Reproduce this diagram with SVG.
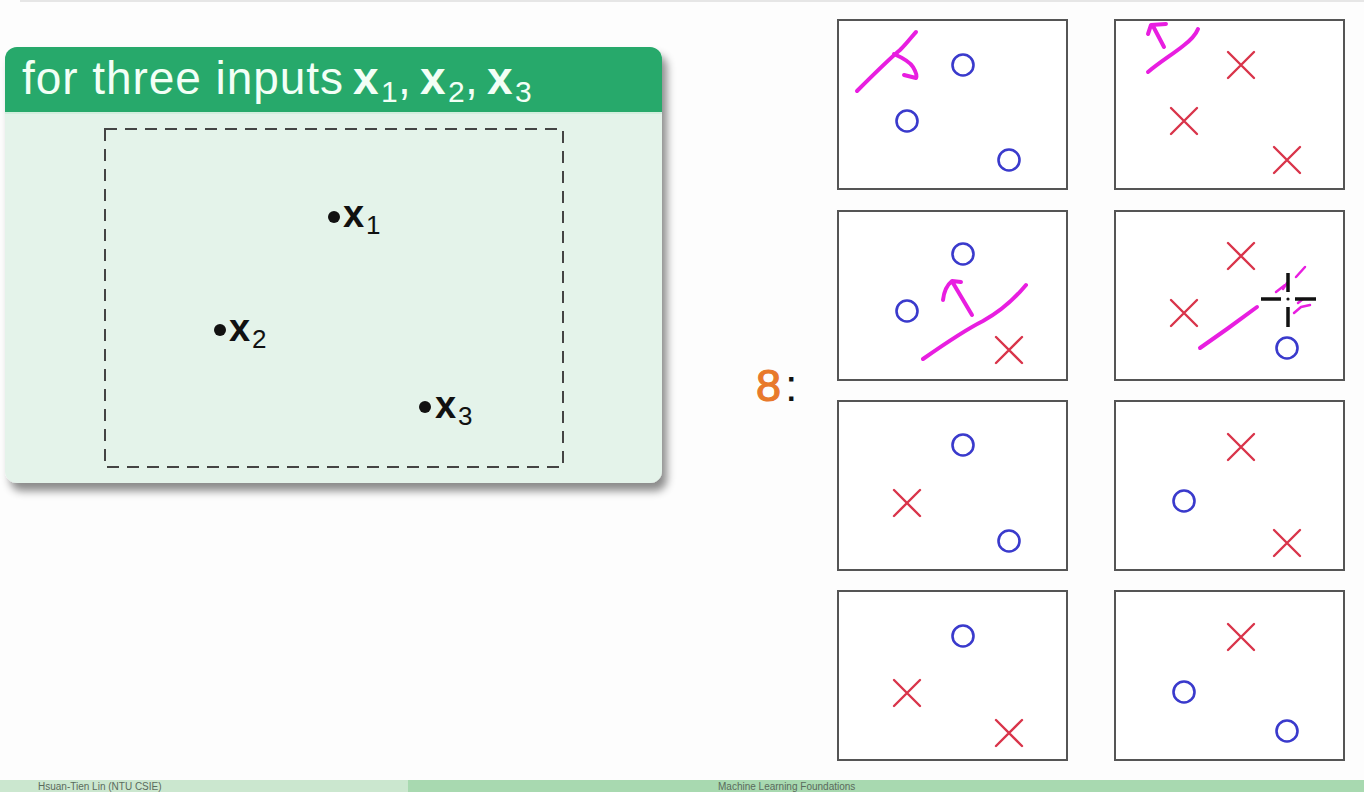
<svg xmlns="http://www.w3.org/2000/svg" width="1364" height="792" viewBox="0 0 1364 792">
<defs>
<filter id="shadow" x="-5%" y="-5%" width="115%" height="120%">
<feDropShadow dx="5" dy="8" stdDeviation="4" flood-color="#000" flood-opacity="0.45"/>
</filter>
</defs>
<style>
.box{fill:#fff;stroke:#555;stroke-width:2}
.o{fill:none;stroke:#3a3acc;stroke-width:2.6}
.x{fill:none;stroke:#d9344a;stroke-width:2.4;stroke-linecap:round}
.pen{fill:none;stroke:#e81ee0;stroke-width:4;stroke-linecap:round;stroke-linejoin:round}
.hd{font-family:"Liberation Sans",Arial,sans-serif;fill:#f2fff6}
.lbl{font-family:"Liberation Sans",Arial,sans-serif;fill:#111}
.cur{stroke:#111;stroke-width:3.5;stroke-linecap:butt}
.ft{font-family:"Liberation Sans",Arial,sans-serif;font-size:10px;fill:#5a6b5c}
</style>

<rect x="0" y="0" width="1364" height="792" fill="#fdfdfd"/>
<line x1="20" y1="1" x2="1364" y2="1" stroke="#e6e6e6" stroke-width="2"/>

<g id="panel">
<path d="M5,59 a12,12 0 0 1 12,-12 h633 a12,12 0 0 1 12,12 v412 a12,12 0 0 1 -12,12 h-633 a12,12 0 0 1 -12,-12 z" fill="#e4f3ea" filter="url(#shadow)"/>
<path d="M5,59 a12,12 0 0 1 12,-12 h633 a12,12 0 0 1 12,12 v53 h-657 z" fill="#27a96b"/>
<line x1="5" y1="113" x2="662" y2="113" stroke="#d2eede" stroke-width="2"/>
<text class="hd" x="22" y="94" font-size="46" textLength="321" lengthAdjust="spacing">for three inputs</text>
<text class="hd" y="94" font-size="46" font-weight="bold"><tspan x="353">x</tspan><tspan x="420">x</tspan><tspan x="487">x</tspan></text>
<text class="hd" y="102" font-size="30"><tspan x="381">1</tspan><tspan x="448">2</tspan><tspan x="515">3</tspan></text>
<text class="hd" y="94" font-size="46"><tspan x="398">,</tspan><tspan x="465">,</tspan></text>
<rect x="105" y="129" width="458" height="338" fill="none" stroke="#444" stroke-width="2" stroke-dasharray="12 8"/>
</g>

<g id="point-x1">
<circle cx="334" cy="217" r="6" fill="#111"/>
<text class="lbl" x="343" y="227" font-size="38" font-weight="bold">x</text>
<text class="lbl" x="366" y="234" font-size="26">1</text>
</g>
<g id="point-x2">
<circle cx="220" cy="330" r="6" fill="#111"/>
<text class="lbl" x="229" y="341" font-size="38" font-weight="bold">x</text>
<text class="lbl" x="252" y="348" font-size="26">2</text>
</g>
<g id="point-x3">
<circle cx="425" cy="407" r="6" fill="#111"/>
<text class="lbl" x="435" y="418" font-size="38" font-weight="bold">x</text>
<text class="lbl" x="458" y="425" font-size="26">3</text>
</g>

<g id="count">
<text x="756" y="401" font-family="Liberation Sans,Arial,sans-serif" font-size="45" fill="#e8792b" stroke="#e8792b" stroke-width="1.2">8</text>
<text x="785" y="401" font-family="Liberation Sans,Arial,sans-serif" font-size="45" fill="#111">:</text>
</g>

<g id="box1" transform="translate(838,20)">
<rect class="box" width="229" height="169"/>
<circle class="o" cx="125" cy="45" r="10.5"/>
<circle class="o" cx="69" cy="101" r="10.5"/>
<circle class="o" cx="171" cy="140" r="10.5"/>
<path class="pen" d="M19,71 C35,55 50,40 62,30 C70,22 75,15 78,12"/>
<path class="pen" d="M56,34 C65,38 72,42 75,47 C78,52 79,56 78,58 L66,55"/>
</g>

<g id="box2" transform="translate(1115,20)">
<rect class="box" width="229" height="169"/>
<path class="x" d="M113,32 L139,58 M139,32 L113,58"/>
<path class="x" d="M56,88 L82,114 M82,88 L56,114"/>
<path class="x" d="M159,127 L185,153 M185,127 L159,153"/>
<path class="pen" d="M33,52 C45,42 58,34 68,26 C76,20 81,14 83,9"/>
<path class="pen" d="M49,27 L38,6 M33,14 L36,5 L51,4"/>
</g>

<g id="box3" transform="translate(838,211)">
<rect class="box" width="229" height="169"/>
<circle class="o" cx="125" cy="43" r="10.5"/>
<circle class="o" cx="69" cy="100" r="10.5"/>
<path class="x" d="M158,126 L184,152 M184,126 L158,152"/>
<path class="pen" d="M85,148 C105,134 125,120 145,110 C165,99 178,86 188,74"/>
<path class="pen" d="M134,104 L115,72 M105,89 C106,80 109,74 114,70 L123,71"/>
</g>

<g id="box4" transform="translate(1115,211)">
<rect class="box" width="229" height="169"/>
<path class="x" d="M113,32 L139,58 M139,32 L113,58"/>
<path class="x" d="M56,89 L82,115 M82,89 L56,115"/>
<circle class="o" cx="172" cy="137" r="10.5"/>
<path class="pen" d="M85,137 L112,118 L142,96"/>
<path class="pen" style="stroke-width:2.5" d="M161,81 L170,74 M168,78 L172,72 M181,66 L190,56 M179,102 L186,96 L195,94 M183,92 L188,88"/>
<g class="cur">
<line x1="146" y1="88" x2="166" y2="88"/>
<line x1="180" y1="88" x2="201" y2="88"/>
<line x1="173" y1="62" x2="173" y2="81"/>
<line x1="173" y1="96" x2="173" y2="116"/>
<circle cx="173" cy="88" r="1.6" fill="#111" stroke="none"/>
</g>
</g>

<g id="box5" transform="translate(838,401)">
<rect class="box" width="229" height="169"/>
<circle class="o" cx="125" cy="44" r="10.5"/>
<path class="x" d="M56,89 L82,115 M82,89 L56,115"/>
<circle class="o" cx="171" cy="140" r="10.5"/>
</g>

<g id="box6" transform="translate(1115,401)">
<rect class="box" width="229" height="169"/>
<path class="x" d="M113,33 L139,59 M139,33 L113,59"/>
<circle class="o" cx="69" cy="100" r="10.5"/>
<path class="x" d="M159,129 L185,155 M185,129 L159,155"/>
</g>

<g id="box7" transform="translate(838,591)">
<rect class="box" width="229" height="169"/>
<circle class="o" cx="125" cy="45" r="10.5"/>
<path class="x" d="M56,89 L82,115 M82,89 L56,115"/>
<path class="x" d="M158,129 L184,155 M184,129 L158,155"/>
</g>

<g id="box8" transform="translate(1115,591)">
<rect class="box" width="229" height="169"/>
<path class="x" d="M113,33 L139,59 M139,33 L113,59"/>
<circle class="o" cx="69" cy="101" r="10.5"/>
<circle class="o" cx="172" cy="140" r="10.5"/>
</g>

<g id="footer">
<rect x="0" y="780" width="408" height="12" fill="#cbe7cf"/>
<rect x="408" y="780" width="956" height="12" fill="#a8d9b0"/>
<text class="ft" x="38" y="790">Hsuan-Tien Lin (NTU CSIE)</text>
<text class="ft" x="718" y="790">Machine Learning Foundations</text>
</g>
</svg>
